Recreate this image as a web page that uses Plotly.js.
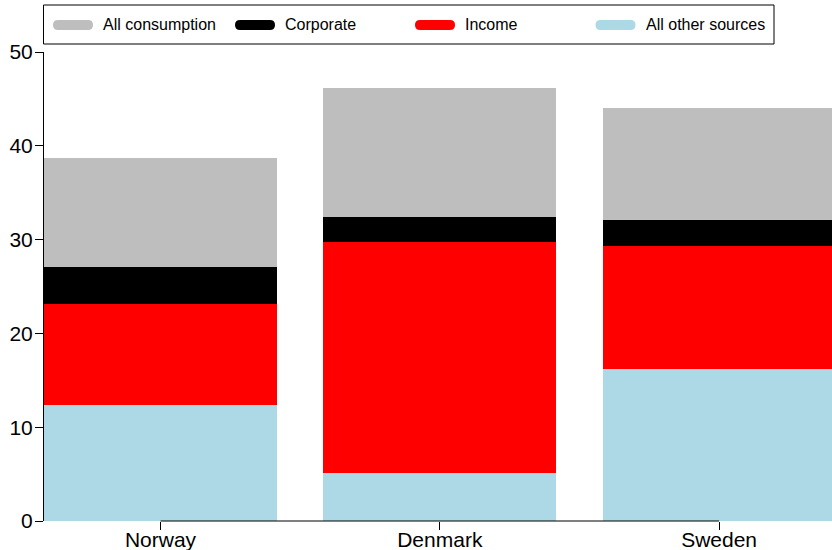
<!DOCTYPE html>
<html>
<head>
<meta charset="utf-8">
<script src="https://cdn.plot.ly/plotly-3.0.1.min.js"></script>
<style>html,body{margin:0;padding:0;background:#fff;}#chart{width:832px;height:550px;}</style>
</head>
<body>
<div id="chart"></div>
<script>
const countries = ["Norway", "Denmark", "Sweden"];
const seriesNames = ["All other sources", "Income", "Corporate", "All consumption"];
const allOtherSources = [12.35, 5.1, 16.2];
const income = [10.75, 24.62, 13.1];
const corporate = [3.96, 2.67, 2.77];
const allConsumption = [11.62, 13.75, 11.93];
const seriesColors = ["#ADD8E6", "#FF0000", "#000000", "#BEBEBE"];
const yTicks = [0, 10, 20, 30, 40, 50];

const seriesValues = [allOtherSources, income, corporate, allConsumption];
const FONT = '"Liberation Sans", Arial, Helvetica, sans-serif';

const traces = seriesValues.map((vals, i) => ({
  type: 'bar',
  name: seriesNames[i],
  x: countries.map((c, j) => j),
  y: vals,
  width: 0.834,
  marker: {color: seriesColors[i], line: {width: 0}},
  showlegend: false,
  hoverinfo: 'skip'
}));

const W = 832, ML = 44, MR = 0, MT = 52, MB = 29;
const plotW = W - ML - MR, plotH = 550 - MT - MB;
const px2x = p => (p - ML) / plotW;
const py2y = p => (550 - MB - p) / plotH;

// legend order (left to right) as in reference
const legendOrder = [3, 2, 1, 0];
const legendCenters = [73, 255, 435, 615.5];
const pill = "M-15,-5 L15,-5 Q20,-5 20,0 Q20,5 15,5 L-15,5 Q-20,5 -20,0 Q-20,-5 -15,-5 Z";

const shapes = [
  {type: 'line', xref: 'x', yref: 'paper', x0: 0, x1: countries.length - 1, y0: 0, y1: 0,
   line: {color: '#000', width: 1}},
  {type: 'rect', xref: 'paper', yref: 'paper', x0: px2x(43.5), x1: px2x(774), y0: py2y(44), y1: py2y(5),
   line: {color: '#000', width: 1}, fillcolor: 'rgba(0,0,0,0)'}
];
const annotations = [];
legendOrder.forEach((si, k) => {
  shapes.push({type: 'path', xref: 'paper', yref: 'paper', xsizemode: 'pixel', ysizemode: 'pixel',
    xanchor: px2x(legendCenters[k]), yanchor: py2y(25), path: pill,
    fillcolor: seriesColors[si], line: {width: 0}});
  annotations.push({xref: 'paper', yref: 'paper', x: px2x(legendCenters[k] + 28), y: py2y(25),
    xanchor: 'left', yanchor: 'middle', showarrow: false, text: seriesNames[si],
    font: {family: FONT, size: 16, color: '#000'}});
});

const layout = {
  width: 832, height: 550,
  margin: {l: ML, r: MR, t: MT, b: MB, pad: 0},
  paper_bgcolor: '#fff', plot_bgcolor: '#fff',
  barmode: 'stack',
  bargap: 0,
  showlegend: false,
  font: {family: FONT, color: '#000'},
  xaxis: {
    range: [(44 - 160.5) / 279.3, (832 - 160.5) / 279.3],
    tickmode: 'array', tickvals: countries.map((c, j) => j), ticktext: countries,
    ticks: 'outside', ticklen: 8, tickcolor: '#000', tickwidth: 1,
    ticklabelstandoff: -8,
    showgrid: false, zeroline: false, showline: false,
    tickfont: {family: FONT, size: 21, color: '#000'}, fixedrange: true
  },
  yaxis: {
    range: [0, 50],
    tickmode: 'array', tickvals: yTicks, ticktext: yTicks.map(String),
    ticks: 'outside', ticklen: 8, tickcolor: '#000', tickwidth: 1,
    ticklabelstandoff: -2,
    showgrid: false, zeroline: false, showline: true, linecolor: '#000', linewidth: 1,
    tickfont: {family: FONT, size: 21, color: '#000'}, fixedrange: true
  },
  shapes: shapes,
  annotations: annotations
};

Plotly.newPlot('chart', traces, layout, {displayModeBar: false, staticPlot: true});
</script>
</body>
</html>
